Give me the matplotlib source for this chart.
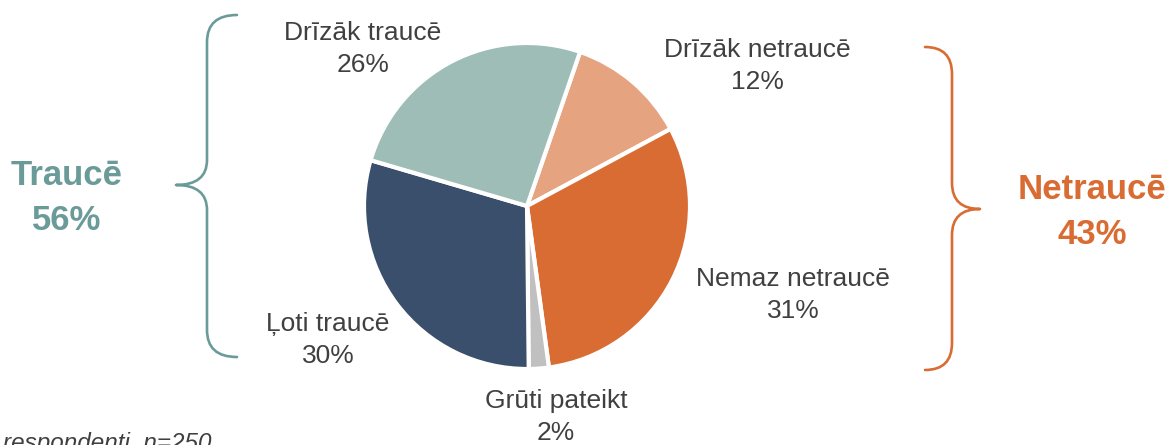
import matplotlib
matplotlib.use("Agg")
import matplotlib.pyplot as plt
from matplotlib.path import Path
from matplotlib.patches import PathPatch

plt.rcParams['font.family'] = ['Liberation Sans', 'DejaVu Sans']

categories = ["Drīzāk netraucē", "Nemaz netraucē", "Grūti pateikt", "Ļoti traucē", "Drīzāk traucē"]
values = [12, 31, 2, 30, 26]
colors = ["#E6A380", "#D96C33", "#C0C0C0", "#3A4F6B", "#9EBDB7"]
group_labels = ["Traucē", "Netraucē"]
group_values = [56, 43]
footnote = "respondenti, n=250"

TEAL = "#6B9B99"
ORANGE = "#D96C33"
TXT = "#404040"

W, H = 1175, 445
fig = plt.figure(figsize=(W / 100, H / 100), dpi=100)
ax = fig.add_axes([0, 0, 1, 1])

def Y(yp):
    return H - yp

cx, cy, r = 527, Y(206), 163
ax.pie(values, colors=colors, startangle=71, counterclock=False,
       center=(cx, cy), radius=r, frame=True,
       wedgeprops=dict(edgecolor='white', linewidth=3.0))
ax.set_xlim(0, W)
ax.set_ylim(0, H)
ax.set_aspect('equal')
ax.axis('off')

label_pos = {
    "Drīzāk netraucē": (757, 66),
    "Nemaz netraucē": (793, 295),
    "Grūti pateikt": (556, 417),
    "Ļoti traucē": (328, 340),
    "Drīzāk traucē": (363, 49),
}
for cat, v in zip(categories, values):
    x, y = label_pos[cat]
    ax.text(x, Y(y), f"{cat}\n{v}%", ha='center', va='center', fontsize=19,
            color=TXT, linespacing=1.45)

# braces
def brace(spec, color):
    verts = [(x, Y(y)) for x, y in spec[0]]
    p = Path(verts, spec[1])
    ax.add_patch(PathPatch(p, fill=False, edgecolor=color, linewidth=1.9,
                           capstyle='round', joinstyle='round'))

C3 = Path.CURVE3
left = ([(237, 15), (207, 15), (207, 42), (207, 160), (207, 185), (176, 185),
         (207, 185), (207, 210), (207, 330), (207, 357), (237, 357)],
        [Path.MOVETO, C3, C3, Path.LINETO, C3, C3, C3, C3, Path.LINETO, C3, C3])
right = ([(925, 47), (952, 47), (952, 74), (952, 183), (952, 209), (980, 209),
          (952, 209), (952, 235), (952, 343), (952, 370), (925, 370)],
         [Path.MOVETO, C3, C3, Path.LINETO, C3, C3, C3, C3, Path.LINETO, C3, C3])
brace(left, TEAL)
brace(right, ORANGE)

ax.text(67, Y(198), f"{group_labels[0]}\n{group_values[0]}%", ha='center', va='center',
        fontsize=25, fontweight='bold', color=TEAL, linespacing=1.45)
ax.text(1092, Y(212), f"{group_labels[1]}\n{group_values[1]}%", ha='center', va='center',
        fontsize=25, fontweight='bold', color=ORANGE, linespacing=1.45)

ax.text(3, Y(450), footnote, ha='left', va='baseline', fontsize=17.5,
        fontstyle='italic', color=TXT)

fig.savefig("out.png", dpi=100)
